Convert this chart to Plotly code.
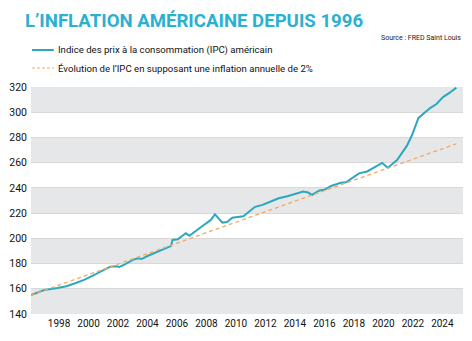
import plotly.graph_objects as go

# CPI series
cpi_years = [1996.1, 1997.0, 1997.9, 1998.5, 1999.0, 1999.7, 2000.3, 2001.0, 2001.47, 2001.9,
             2002.1, 2002.5, 2003.0, 2003.37, 2003.6, 2004.0, 2004.6, 2005.0, 2005.5, 2005.6,
             2005.7, 2006.05, 2006.6, 2006.84, 2007.2, 2007.73, 2008.3, 2008.58, 2009.08, 2009.4,
             2009.75, 2010.5, 2011.3, 2011.8, 2012.2, 2012.4, 2012.9, 2013.55, 2014.56, 2014.9,
             2015.15, 2015.67, 2016.0, 2016.45, 2017.12, 2017.46, 2018.35, 2018.9, 2019.48, 2019.92,
             2020.3, 2020.93, 2021.6, 2021.93, 2022.38, 2022.7, 2023.17, 2023.6, 2024.05, 2024.5,
             2024.95]
cpi_values = [155.1, 159.0, 160.6, 162.0, 164.0, 167.0, 170.5, 175.0, 177.5, 177.8,
              177.3, 179.5, 182.9, 184.2, 183.6, 186.0, 188.7, 191.0, 193.4, 194.0,
              198.7, 199.3, 204.0, 202.1, 205.0, 209.8, 214.6, 219.1, 212.5, 213.0,
              216.4, 217.5, 225.0, 226.5, 228.4, 229.4, 231.8, 233.6, 237.1, 236.3,
              234.4, 238.0, 238.5, 241.5, 244.0, 244.5, 251.5, 253.0, 257.0, 259.8,
              256.0, 262.0, 273.5, 281.5, 295.5, 298.5, 303.3, 306.5, 312.0, 315.5,
              319.5]

# 2% path (straight line)
trend_years = [1996.1, 2024.95]
trend_values = [155.0, 275.0]

y_ticks = [140, 160, 180, 200, 220, 240, 260, 280, 300, 320]
x_ticks = [1998, 2000, 2002, 2004, 2006, 2008, 2010, 2012, 2014, 2016, 2018, 2020, 2022, 2024]

name_cpi = "Indice des prix à la consommation (IPC) américain"
name_trend = "Évolution de l’IPC en supposant une inflation annuelle de 2%"
title_text = "L’INFLATION AMÉRICAINE DEPUIS 1996"
source_text = "Source : FRED Saint Louis"

CPI_COLOR = "#2CA8BE"
TREND_COLOR = "#F3A962"
TITLE_COLOR = "#2BB0D0"
FAM = "Roboto"

fig = go.Figure()
fig.add_trace(go.Scatter(x=cpi_years, y=cpi_values, mode="lines", name=name_cpi,
                         line=dict(color=CPI_COLOR, width=2)))
fig.add_trace(go.Scatter(x=trend_years, y=trend_values, mode="lines", name=name_trend,
                         line=dict(color=TREND_COLOR, width=1.3, dash="4px,3px")))

# alternating grey bands
shapes = []
for i in range(0, len(y_ticks) - 1, 2):
    shapes.append(dict(type="rect", xref="paper", yref="y", x0=0, x1=1,
                       y0=y_ticks[i], y1=y_ticks[i + 1], fillcolor="#E6E7E8",
                       line=dict(width=0), layer="below"))

# legend drawn in paper coordinates above the plot
PW, PH, L, T = 436, 227, 27, 87
def px(x):
    return (x - L) / PW
def py(y):
    return (T + PH - y) / PH

legend_items = [(name_cpi, CPI_COLOR, "solid", 2, 50), (name_trend, TREND_COLOR, "3px,2px", 1.2, 68)]
annotations = []
for name, color, dash, w, yy in legend_items:
    shapes.append(dict(type="line", xref="paper", yref="paper", x0=px(28), x1=px(50),
                       y0=py(yy), y1=py(yy), line=dict(color=color, width=w, dash=dash)))
    annotations.append(dict(text=name, xref="paper", yref="paper", x=px(52), xanchor="left",
                            y=py(yy), yanchor="middle", showarrow=False,
                            font=dict(family=FAM, size=9.6, color="#111")))
annotations.append(dict(text=source_text, xref="paper", yref="paper",
                        x=px(463), xanchor="right", y=py(38), yanchor="middle",
                        showarrow=False, font=dict(family=FAM, size=7, color="#222")))

fig.update_layout(
    width=472, height=341,
    margin=dict(l=L, r=472 - L - PW, t=T, b=341 - T - PH),
    paper_bgcolor="white", plot_bgcolor="white",
    shapes=shapes, annotations=annotations,
    showlegend=False,
    title=dict(text=title_text, x=25 / 472, xanchor="left", xref="container",
               y=1 - 14 / 341, yanchor="top", yref="container",
               font=dict(family=FAM, size=18.6, color=TITLE_COLOR, weight="bold")),
    xaxis=dict(range=[1996.1, 2025.4], tickmode="array", tickvals=x_ticks,
               ticktext=[str(t) for t in x_ticks], showgrid=False, zeroline=False,
               showline=False, ticks="", tickangle=0, ticklabelstandoff=2,
               tickfont=dict(family=FAM, size=10, color="#111")),
    yaxis=dict(range=[140, 320], tickmode="array", tickvals=y_ticks,
               showgrid=True, gridcolor="#D8D8D8", gridwidth=1, zeroline=False,
               showline=False, ticks="", ticklabelstandoff=3,
               tickfont=dict(family=FAM, size=10.5, color="#111")),
)

fig.write_html("out.html")
